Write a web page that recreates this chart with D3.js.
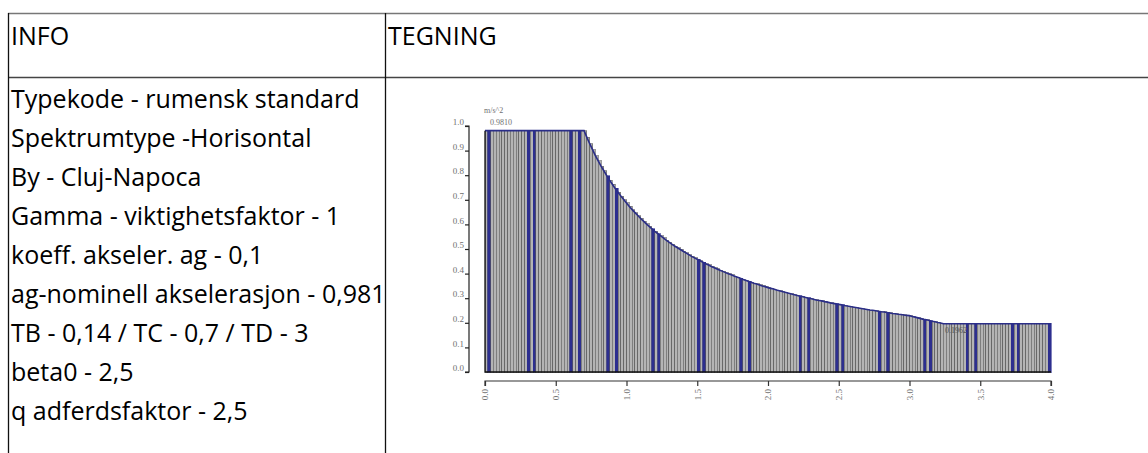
<!DOCTYPE html>
<html>
<head>
<meta charset="utf-8">
<script src="https://cdn.jsdelivr.net/npm/d3@7"></script>
<style>
  body { margin: 0; background: #fff; }
  svg { display: block; }
</style>
</head>
<body>
<div id="demo"></div>
<script>
// table texts
var headers = ['INFO', 'TEGNING'];
var infoLines = [
  'Typekode - rumensk standard',
  'Spektrumtype -Horisontal',
  'By - Cluj-Napoca',
  'Gamma - viktighetsfaktor - 1',
  'koeff. akseler. ag - 0,1',
  'ag-nominell akselerasjon - 0,981',
  'TB - 0,14 / TC - 0,7 / TD - 3',
  'beta0 - 2,5',
  'q adferdsfaktor - 2,5'
];

// spectrum: one bar per 0.02 s, values in m/s^2
var periodStep = 0.02;
var spectrum = [
  0.981,0.981,0.981,0.981,0.981,0.981,0.981,0.981,0.981,0.981,
  0.981,0.981,0.981,0.981,0.981,0.981,0.981,0.981,0.981,0.981,
  0.981,0.981,0.981,0.981,0.981,0.981,0.981,0.981,0.981,0.981,
  0.981,0.981,0.981,0.981,0.981,0.981,0.954,0.928,0.904,0.880,
  0.858,0.837,0.818,0.798,0.780,0.763,0.746,0.731,0.715,0.701,
  0.687,0.673,0.660,0.648,0.636,0.624,0.613,0.602,0.592,0.582,
  0.572,0.563,0.554,0.545,0.536,0.528,0.520,0.512,0.505,0.498,
  0.491,0.484,0.477,0.470,0.464,0.458,0.452,0.446,0.440,0.435,
  0.429,0.424,0.419,0.414,0.409,0.404,0.399,0.395,0.390,0.386,
  0.382,0.377,0.373,0.369,0.365,0.361,0.358,0.354,0.350,0.347,
  0.343,0.340,0.337,0.333,0.330,0.327,0.324,0.321,0.318,0.315,
  0.312,0.309,0.307,0.304,0.301,0.299,0.296,0.293,0.291,0.289,
  0.286,0.284,0.281,0.279,0.277,0.275,0.273,0.270,0.268,0.266,
  0.264,0.262,0.260,0.258,0.256,0.254,0.252,0.251,0.249,0.247,
  0.245,0.244,0.242,0.240,0.238,0.237,0.235,0.234,0.232,0.230,
  0.229,0.226,0.223,0.220,0.217,0.214,0.212,0.209,0.206,0.204,
  0.201,0.199,0.196,0.196,0.196,0.196,0.196,0.196,0.196,0.196,
  0.196,0.196,0.196,0.196,0.196,0.196,0.196,0.196,0.196,0.196,
  0.196,0.196,0.196,0.196,0.196,0.196,0.196,0.196,0.196,0.196,
  0.196,0.196,0.196,0.196,0.196,0.196,0.196,0.196,0.196,0.196
];
// bars that come out blue in the drawing (period of bar start)
var blueBars = [0.02,0.30,0.34,0.60,0.66,0.86,0.92,1.18,1.22,1.50,1.54,
  1.80,1.86,2.22,2.28,2.48,2.52,2.78,2.84,3.10,3.14,3.40,3.46,3.72,3.76,3.98];
var xTicks = [0, 0.5, 1, 1.5, 2, 2.5, 3, 3.5, 4];
var yTicks = [0, 0.1, 0.2, 0.3, 0.4, 0.5, 0.6, 0.7, 0.8, 0.9, 1.0];
var unitLabel = 'm/s^2';
var maxLabel = '0.9810';
var minLabel = '0.1962';

var W = 1148, H = 453;
var svg = d3.select('#demo').append('svg')
  .attr('width', W)
  .attr('height', H);

// ---- table ----
var tableFont = "'Open Sans', 'Noto Sans', sans-serif";
var colX = [8, 385];

svg.append('line')
  .attr('x1', colX[0]).attr('x2', W).attr('y1', 13.5).attr('y2', 13.5)
  .attr('stroke', '#777').attr('stroke-width', 1.6);
svg.append('line')
  .attr('x1', colX[0]).attr('x2', W).attr('y1', 77.5).attr('y2', 77.5)
  .attr('stroke', '#444').attr('stroke-width', 1.6);
svg.selectAll('.vline')
  .data(colX)
  .enter()
  .append('line')
  .attr('class', 'vline')
  .attr('x1', function(d) { return d + 0.5; })
  .attr('x2', function(d) { return d + 0.5; })
  .attr('y1', 13)
  .attr('y2', H)
  .attr('stroke', '#111')
  .attr('stroke-width', 1.3);

svg.selectAll('.head')
  .data(headers)
  .enter()
  .append('text')
  .attr('class', 'head')
  .attr('x', function(d, i) { return colX[i] + 3; })
  .attr('y', 45)
  .attr('font-family', tableFont)
  .attr('font-size', 25)
  .attr('fill', '#000')
  .text(function(d) { return d; });

svg.selectAll('.info')
  .data(infoLines)
  .enter()
  .append('text')
  .attr('class', 'info')
  .attr('x', colX[0] + 3)
  .attr('y', function(d, i) { return 108 + i * 39; })
  .attr('font-family', tableFont)
  .attr('font-size', 25)
  .attr('fill', '#000')
  .text(function(d) { return d; });

// ---- chart ----
var x = d3.scaleLinear().domain([0, 4]).range([485, 1051]);
var y = d3.scaleLinear().domain([0, 1]).range([372, 126]);
var chartFont = "'Liberation Serif', 'DejaVu Serif', serif";
var labelColor = '#707070';

var bw = x(periodStep) - x(0);
var isBlue = function(i) {
  return blueBars.some(function(b) { return Math.abs(b - i * periodStep) < 1e-6; });
};

var bars = svg.append('g').attr('shape-rendering', 'crispEdges');
bars.selectAll('.bar')
  .data(spectrum)
  .enter()
  .append('rect')
  .attr('class', 'bar')
  .attr('x', function(d, i) { return x(i * periodStep); })
  .attr('y', function(d) { return y(d); })
  .attr('width', bw)
  .attr('height', function(d) { return y(0) - y(d); })
  .attr('fill', function(d, i) { return isBlue(i) ? '#2d2f8f' : '#b4b4b4'; })
  .attr('stroke', function(d, i) { return isBlue(i) ? '#2d2f8f' : '#5a5a5a'; })
  .attr('stroke-width', 0.6);

// blue outline of the spectrum
var pts = spectrum.map(function(d, i) { return [i * periodStep, d]; });
pts.push([4, spectrum[spectrum.length - 1]]);
var lineArrToD = d3.line()
  .x(function(d) { return x(d[0]); })
  .y(function(d) { return y(d[1]); });
svg.append('path')
  .attr('d', lineArrToD(pts))
  .attr('fill', 'none')
  .attr('stroke', '#2b2e88')
  .attr('stroke-width', 1.6);

// frame: left side and base line
svg.append('path')
  .attr('d', 'M' + x(0) + ',' + y(spectrum[0]) + 'V' + y(0) + 'H' + x(4))
  .attr('fill', 'none')
  .attr('stroke', '#111')
  .attr('stroke-width', 1.3);

// y axis
var yAxis = d3.axisLeft(y)
  .tickValues(yTicks)
  .tickSize(4)
  .tickFormat(d3.format('.1f'));
var gy = svg.append('g')
  .attr('transform', 'translate(469,0)')
  .call(yAxis);
gy.select('.domain').attr('stroke', '#222').attr('stroke-width', 1.2)
  .attr('d', 'M-4,' + y(1) + 'H0V' + y(0) + 'H-4');
gy.selectAll('.tick line').attr('stroke', '#222').attr('stroke-width', 1.2);
gy.selectAll('.tick text')
  .attr('font-family', chartFont)
  .attr('font-size', 9)
  .attr('fill', labelColor)
  .attr('x', -5)
  .attr('dy', '-0.15em');

// x axis
var xAxis = d3.axisBottom(x)
  .tickValues(xTicks)
  .tickSize(5)
  .tickFormat(d3.format('.1f'));
var gx = svg.append('g')
  .attr('transform', 'translate(0,381)')
  .call(xAxis);
gx.select('.domain').attr('stroke', '#333').attr('stroke-width', 1.2)
  .attr('d', 'M' + x(0) + ',5V0H' + x(4) + 'V5');
gx.selectAll('.tick line').attr('stroke', '#333').attr('stroke-width', 1.2);
gx.selectAll('.tick text')
  .attr('font-family', chartFont)
  .attr('font-size', 9)
  .attr('fill', labelColor)
  .attr('transform', 'rotate(-90)')
  .attr('text-anchor', 'end')
  .attr('x', -8)
  .attr('y', 0)
  .attr('dy', '0.32em');

// small labels
svg.append('text')
  .attr('x', 484).attr('y', 113)
  .attr('font-family', chartFont).attr('font-size', 8)
  .attr('fill', labelColor)
  .text(unitLabel);
svg.append('text')
  .attr('x', 490).attr('y', 125)
  .attr('font-family', chartFont).attr('font-size', 8)
  .attr('fill', labelColor)
  .text(maxLabel);
svg.append('text')
  .attr('x', 945).attr('y', 333)
  .attr('font-family', chartFont).attr('font-size', 8)
  .attr('fill', '#555')
  .text(minLabel);
</script>
</body>
</html>
